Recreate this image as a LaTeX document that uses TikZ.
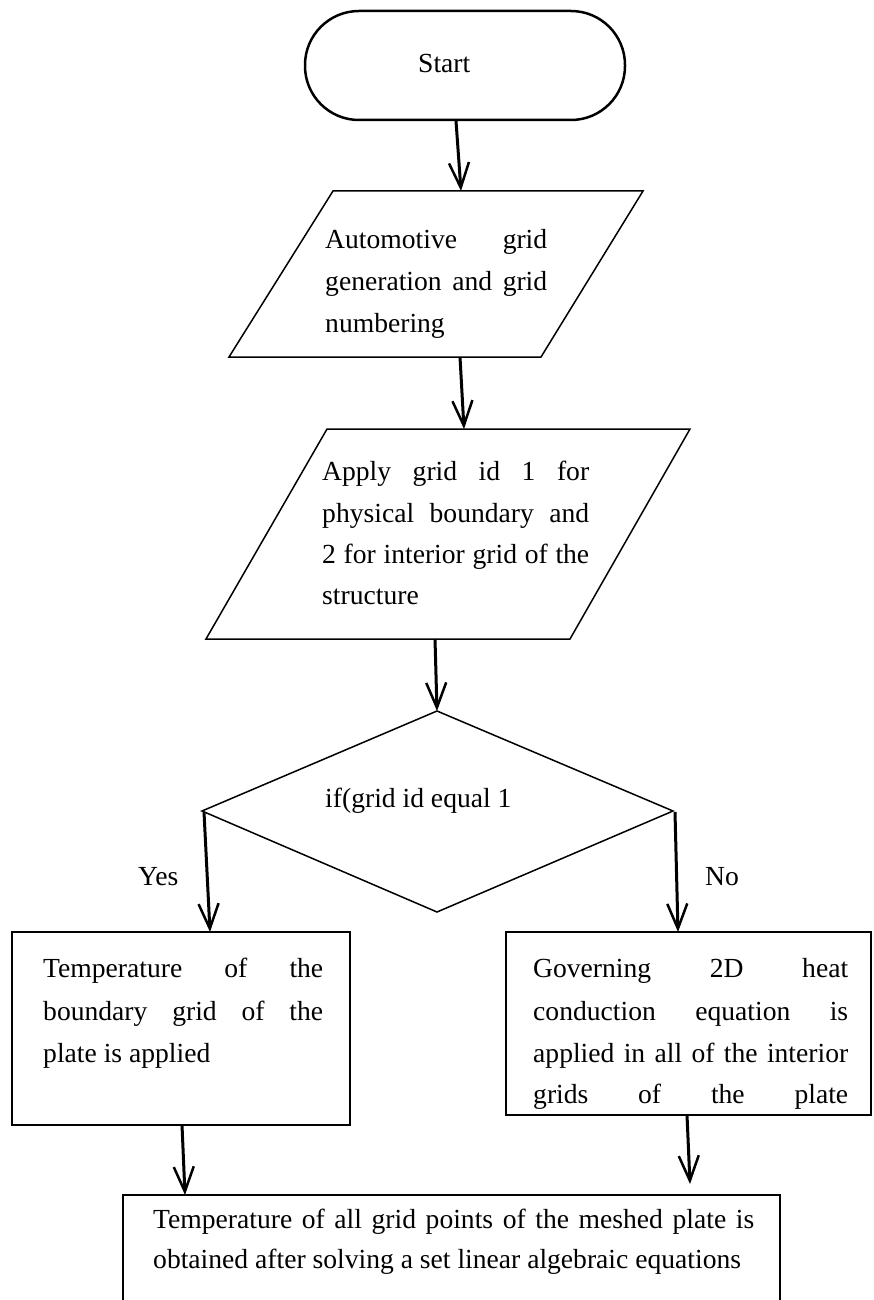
\documentclass[tikz,border=0pt]{standalone}
\usepackage{fontspec}
\setmainfont{Liberation Serif}
\usetikzlibrary{arrows.meta}
\newcommand{\jline}[2]{\makebox[#1][s]{#2}}
\begin{document}
\begin{tikzpicture}[x=1pt,y=-1pt,
  shapeline/.style={draw=black, line width=1.5pt, line join=miter},
  boxline/.style={draw=black, line width=2pt},
  flow/.style={line width=3pt, -{Straight Barb[length=25pt,width=20pt,line width=2.5pt]}},
  plainline/.style={line width=3pt},
  txt/.style={inner sep=0pt, anchor=base west, font=\fontsize{27.6}{42}\selectfont}]
\useasboundingbox (0,0) rectangle (873,1300);
\fill[white] (0,0) rectangle (873,1300);

% shapes
\draw[line width=2.5pt, rounded corners=54pt] (305,11) rectangle (625,120);
\draw[shapeline] (333,191) -- (643,191) -- (541,357) -- (229,357) -- cycle;
\draw[shapeline] (327,429) -- (690,429) -- (570,639) -- (206,639) -- cycle;
\draw[shapeline] (437,711) -- (673,811) -- (437,912) -- (202,811) -- cycle;
\draw[boxline] (12,932) rectangle (350,1125);
\draw[boxline] (506,932) rectangle (871,1115);
\draw[boxline] (123,1304) -- (123,1195) -- (780,1195) -- (780,1304);

% connector end points
\coordinate (sout) at (456,121);
\coordinate (p1in) at (461,191);
\coordinate (p1out) at (460,357);
\coordinate (p2in) at (464,429);
\coordinate (p2out) at (435,639);
\coordinate (dtop) at (437,711);
\coordinate (dleft) at (204,812);
\coordinate (lbin) at (210,932);
\coordinate (dright) at (675,812);
\coordinate (rbin) at (678,932);
\coordinate (lbout) at (182,1125);
\coordinate (bbin) at (185,1195);
\coordinate (rbout) at (687,1115);
\coordinate (rbend) at (690,1184);

\draw[flow] (sout) -- (p1in);
\draw[flow] (p1out) -- (p2in);
\draw[flow] (p2out) -- (dtop);
\draw[flow] (dleft) -- (lbin);
\draw[flow] (dright) -- (rbin);
\draw[flow] (lbout) -- (bbin);
\draw[flow] (rbout) -- (rbend);

% texts
\node[txt] (tstart) at (418,73) {Start};

\node[txt] (a1) at (325,248) {\jline{222pt}{Automotive grid}};
\node[txt] (a2) at (325,290) {\jline{222pt}{generation and grid}};
\node[txt] (a3) at (325,332) {numbering};

\node[txt] (b1) at (322,480) {\jline{267pt}{Apply grid id 1 for}};
\node[txt] (b2) at (322,522) {\jline{267pt}{physical boundary and}};
\node[txt] (b3) at (322,563) {\jline{267pt}{2 for interior grid of the}};
\node[txt] (b4) at (322,604) {structure};

\node[txt] (dq) at (325,807) {if(grid id equal 1};
\node[txt] (yes) at (138,885) {Yes};
\node[txt] (no) at (705,885) {No};

\node[txt] (l1) at (43,977) {\jline{280pt}{Temperature of the}};
\node[txt] (l2) at (43,1020) {\jline{280pt}{boundary grid of the}};
\node[txt] (l3) at (43,1062) {plate is applied};

\node[txt] (r1) at (533,977) {\jline{315pt}{Governing 2D heat}};
\node[txt] (r2) at (533,1020) {\jline{315pt}{conduction equation is}};
\node[txt] (r3) at (533,1062) {\jline{315pt}{applied in all of the interior}};
\node[txt] (r4) at (533,1103) {\jline{315pt}{grids of the plate}};

\node[txt] (f1) at (153,1228) {\jline{601pt}{Temperature of all grid points of the meshed plate is}};
\node[txt] (f2) at (153,1268) {obtained after solving a set linear algebraic equations};
\end{tikzpicture}
\end{document}
